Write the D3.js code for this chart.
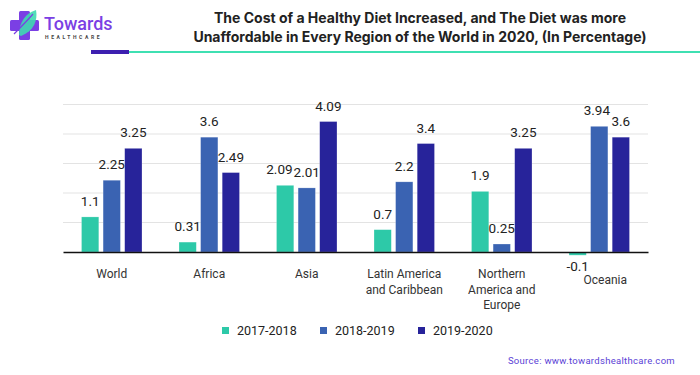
<!DOCTYPE html>
<html>
<head>
<meta charset="utf-8">
<script src="https://d3js.org/d3.v7.min.js"></script>
<style>
  body { margin: 0; background: #fff; }
  svg { font-family: Roboto, "Open Sans", sans-serif; }
</style>
</head>
<body>
<div id="chart"></div>
<script>
// data
const regions = ["World", "Africa", "Asia", "Latin America\nand Caribbean", "Northern\nAmerica and\nEurope", "Oceania"];
const seriesNames = ["2017-2018", "2018-2019", "2019-2020"];
const s2017 = [1.1, 0.31, 2.09, 0.7, 1.9, -0.1];
const s2018 = [2.25, 3.6, 2.01, 2.2, 0.25, 3.94];
const s2019 = [3.25, 2.49, 4.09, 3.4, 3.25, 3.6];
const gridValues = [0.925, 1.85, 2.775, 3.7, 4.625];
const colors = ["#2dc9a8", "#3a63b2", "#27239a"];

const width = 700, height = 375;
const margin = { top: 104, right: 52, bottom: 123, left: 63 };

const svg = d3.select("#chart").append("svg")
  .attr("width", width).attr("height", height);

// logo
const logo = svg.append("g");
logo.append("rect").attr("x", 19).attr("y", 11).attr("width", 11).attr("height", 29).attr("rx", 1.5).attr("fill", "#7b3fe4");
logo.append("rect").attr("x", 10).attr("y", 20).attr("width", 29).attr("height", 11).attr("rx", 1.5).attr("fill", "#7b3fe4");
logo.append("path")
  .attr("d", "M19,35 C19,22 26,13 36,10 C38,20 34,31 21,36 Z")
  .attr("fill", "#3fd9b0").attr("opacity", 0.9);
logo.append("path")
  .attr("d", "M14,34 C20,28 26,22 33,14")
  .attr("fill", "none").attr("stroke", "#7b3fe4").attr("stroke-width", 1.2);
logo.append("text").attr("x", 44).attr("y", 30)
  .attr("font-size", 18).attr("font-weight", 500).attr("fill", "#7b3fe4")
  .text("Towards");
logo.append("text").attr("x", 45).attr("y", 39)
  .attr("font-size", 5).attr("font-weight", 700).attr("fill", "#444")
  .attr("letter-spacing", 2.6).text("HEALTHCARE");

// title
const title = svg.append("text").attr("text-anchor", "middle")
  .attr("font-size", 14).attr("font-weight", 700).attr("fill", "#222")
  .attr("font-family", "Inter, Roboto, sans-serif");
title.append("tspan").attr("x", 420).attr("y", 23)
  .text("The Cost of a Healthy Diet Increased, and The Diet was more");
title.append("tspan").attr("x", 420).attr("y", 42)
  .text("Unaffordable in Every Region of the World in 2020, (In Percentage)");

svg.append("rect").attr("x", 129).attr("y", 51).attr("width", 571).attr("height", 2).attr("fill", "#3fe0b2");
svg.append("rect").attr("x", 91).attr("y", 50).attr("width", 38).attr("height", 4).attr("fill", "#3d1fb0");

// scales
const x = d3.scaleBand()
  .domain(regions)
  .range([margin.left, width - margin.right])
  .paddingInner(0.38).paddingOuter(0.19);

const xSub = d3.scaleBand()
  .domain(seriesNames)
  .range([0, x.bandwidth()])
  .paddingInner(0.2);

const y = d3.scaleLinear()
  .domain([0, 4.625])
  .range([252, 104.5]);

// grid
svg.append("g").selectAll("line")
  .data(gridValues)
  .join("line")
  .attr("x1", margin.left).attr("x2", width - margin.right)
  .attr("y1", d => y(d)).attr("y2", d => y(d))
  .attr("stroke", "#e3e3e3").attr("stroke-width", 1);

// bars
const rows = regions.map((r, i) => ({
  region: r,
  values: [s2017[i], s2018[i], s2019[i]]
}));

const groups = svg.append("g").selectAll("g")
  .data(rows)
  .join("g")
  .attr("transform", d => `translate(${x(d.region)},0)`);

groups.selectAll("rect")
  .data(d => d.values.map((v, j) => ({ key: seriesNames[j], v, j })))
  .join("rect")
  .attr("x", d => xSub(d.key))
  .attr("width", xSub.bandwidth())
  .attr("y", d => Math.min(y(d.v), y(0)))
  .attr("height", d => Math.abs(y(d.v) - y(0)))
  .attr("fill", d => colors[d.j])
  .attr("stroke", "rgba(255,255,255,0.35)")
  .attr("stroke-width", 0.6);

groups.selectAll("text.val")
  .data(d => d.values.map((v, j) => ({ key: seriesNames[j], v, j })))
  .join("text")
  .attr("class", "val")
  .attr("x", d => xSub(d.key) + xSub.bandwidth() / 2)
  .attr("y", d => d.v < 0 ? y(d.v) + 16 : y(d.v) - 11)
  .attr("text-anchor", "middle")
  .attr("font-size", 13.5).attr("fill", "#222")
  .text(d => d.v);

// nudge labels that collide with the next one in the same group
groups.each(function() {
  const labels = d3.select(this).selectAll("text.val").nodes();
  for (let i = 0; i < labels.length - 1; i++) {
    const a = labels[i].getBBox(), b = labels[i + 1].getBBox();
    const vOverlap = a.y < b.y + b.height && b.y < a.y + a.height;
    const over = a.x + a.width + 1 - b.x;
    if (vOverlap && over > 0) {
      const cx = +labels[i].getAttribute("x");
      labels[i].setAttribute("x", cx - over);
    }
  }
});

// baseline axis
svg.append("g")
  .attr("transform", `translate(0,${y(0)})`)
  .call(d3.axisBottom(x).tickSize(0).tickFormat(""))
  .call(g => g.select(".domain").attr("stroke", "#111").attr("stroke-width", 1.5));

// category labels
svg.append("g").selectAll("text")
  .data(regions)
  .join("text")
  .attr("text-anchor", "middle")
  .attr("font-size", 12).attr("fill", "#333")
  .attr("transform", d => d === "Oceania"
    ? `translate(${x(d) + x.bandwidth() / 2 + 6},${y(0) + 32})`
    : `translate(${x(d) + x.bandwidth() / 2},${y(0) + 26})`)
  .each(function(d) {
    d.split("\n").forEach((line, i) => {
      d3.select(this).append("tspan")
        .attr("x", 0).attr("dy", i === 0 ? 0 : 15.5).text(line);
    });
  });

// legend
const legendX = [222, 320, 418];
const legend = svg.append("g").selectAll("g")
  .data(seriesNames)
  .join("g")
  .attr("transform", (d, i) => `translate(${legendX[i]},327)`);
legend.append("rect").attr("width", 7).attr("height", 7)
  .attr("fill", (d, i) => colors[i]);
legend.append("text").attr("x", 15).attr("y", 7.5)
  .attr("font-size", 12.5).attr("fill", "#222").text(d => d);

// source
svg.append("text").attr("x", 675).attr("y", 364)
  .attr("text-anchor", "end").attr("font-size", 9.5).attr("fill", "#5a3fd6")
  .attr("letter-spacing", 0.3)
  .text("Source: www.towardshealthcare.com");
</script>
</body>
</html>
